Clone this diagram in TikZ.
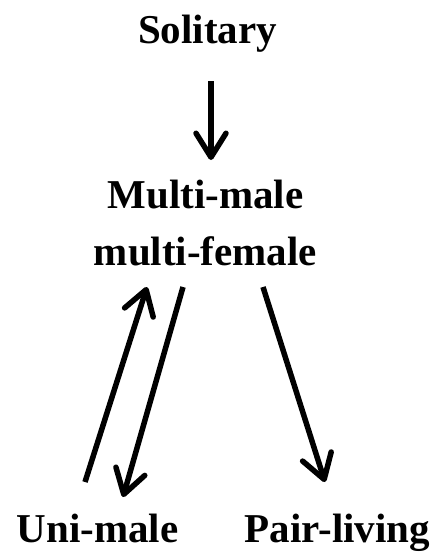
\documentclass[tikz,border=0pt]{standalone}
\usepackage{fontspec}
\setmainfont{Liberation Serif}
\usetikzlibrary{arrows.meta}
\begin{document}
\begin{tikzpicture}[x=1pt,y=-1pt,
  lbl/.style={font=\fontsize{41}{57}\selectfont\bfseries, inner sep=0pt, anchor=base, align=center},
  arr/.style={line width=5.5pt, -{Straight Barb[length=24pt,width=30pt,round]}}]
\useasboundingbox (0,0) rectangle (442,557);
\node[lbl] (sol) at (207.5,43) {Solitary};
\node[lbl] (mm) at (205.5,265) {Multi-male\\multi-female};
\node[lbl] (uni) at (97.5,542) {Uni-male};
\node[lbl] (pair) at (337.5,542) {Pair-living};
\coordinate (s1) at (211,81);
\coordinate (s2) at (211,160);
\coordinate (u1) at (85,482);
\coordinate (u2) at (147,287);
\coordinate (d1) at (183,287);
\coordinate (d2) at (123,497);
\coordinate (p1) at (263,287);
\coordinate (p2) at (325,482);
\draw[arr] (s1) -- (s2);
\draw[arr] (u1) -- (u2);
\draw[arr] (d1) -- (d2);
\draw[arr] (p1) -- (p2);
\end{tikzpicture}
\end{document}
